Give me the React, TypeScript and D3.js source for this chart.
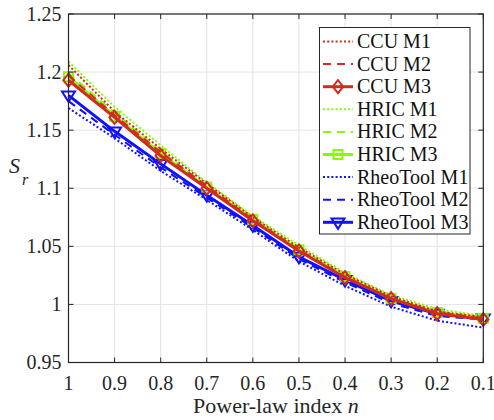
import React from "react";
import * as d3 from "d3";

const nValues = [1, 0.9, 0.8, 0.7, 0.6, 0.5, 0.4, 0.3, 0.2, 0.1];
const xTickLabels = ["1", "0.9", "0.8", "0.7", "0.6", "0.5", "0.4", "0.3", "0.2", "0.1"];
const yTicks = [0.95, 1, 1.05, 1.1, 1.15, 1.2, 1.25];
const yTickLabels = ["0.95", "1", "1.05", "1.1", "1.15", "1.2", "1.25"];

const ccuM1 = [1.206, 1.166, 1.134, 1.104, 1.075, 1.049, 1.026, 1.007, 0.994, 0.989];
const ccuM2 = [1.197, 1.163, 1.131, 1.102, 1.073, 1.047, 1.024, 1.005, 0.993, 0.988];
const ccuM3 = [1.193, 1.161, 1.128, 1.100, 1.072, 1.046, 1.023, 1.005, 0.992, 0.987];
const hricM1 = [1.209, 1.170, 1.137, 1.105, 1.076, 1.051, 1.027, 1.008, 0.996, 0.990];
const hricM2 = [1.199, 1.165, 1.132, 1.102, 1.074, 1.048, 1.025, 1.006, 0.994, 0.989];
const hricM3 = [1.196, 1.162, 1.130, 1.101, 1.073, 1.047, 1.024, 1.005, 0.993, 0.988];
const rheoM1 = [1.169, 1.143, 1.115, 1.090, 1.064, 1.037, 1.016, 0.998, 0.986, 0.980];
const rheoM2 = [1.175, 1.146, 1.118, 1.092, 1.066, 1.039, 1.019, 1.001, 0.990, 0.987];
const rheoM3 = [1.180, 1.149, 1.121, 1.094, 1.068, 1.041, 1.021, 1.003, 0.992, 0.988];

const RED = "#d42a1e";
const GREEN = "#80ff00";
const BLUE = "#1010ff";

type Series = {
  name: string;
  values: number[];
  color: string;
  style: "dot" | "dash" | "solid";
  marker?: "diamond" | "square" | "triangle";
};

const legendSeries: Series[] = [
  { name: "CCU M1", values: ccuM1, color: RED, style: "dot" },
  { name: "CCU M2", values: ccuM2, color: RED, style: "dash" },
  { name: "CCU M3", values: ccuM3, color: RED, style: "solid", marker: "diamond" },
  { name: "HRIC M1", values: hricM1, color: GREEN, style: "dot" },
  { name: "HRIC M2", values: hricM2, color: GREEN, style: "dash" },
  { name: "HRIC M3", values: hricM3, color: GREEN, style: "solid", marker: "square" },
  { name: "RheoTool M1", values: rheoM1, color: BLUE, style: "dot" },
  { name: "RheoTool M2", values: rheoM2, color: BLUE, style: "dash" },
  { name: "RheoTool M3", values: rheoM3, color: BLUE, style: "solid", marker: "triangle" },
];

// draw order: RheoTool first, then HRIC, then CCU on top
const drawOrder = [6, 7, 8, 3, 4, 5, 0, 1, 2];

const W = 494;
const H = 420;
const left = 68.5;
const right = 483.3;
const top = 14;
const bottom = 362.5;

function styleProps(s: Series) {
  if (s.style === "dot") return { strokeWidth: 2, strokeDasharray: "2,2.2" };
  if (s.style === "dash") return { strokeWidth: 2, strokeDasharray: "8,6" };
  return { strokeWidth: 3, strokeDasharray: undefined };
}

function Marker({ kind, x, y, color }: { kind: string; x: number; y: number; color: string }) {
  if (kind === "diamond") {
    const r = 6.5;
    return (
      <path
        d={`M${x},${y - r}L${x + r * 0.8},${y}L${x},${y + r}L${x - r * 0.8},${y}Z`}
        fill="none"
        stroke={color}
        strokeWidth={2}
      />
    );
  }
  if (kind === "square") {
    const r = 4.5;
    return <rect x={x - r} y={y - r} width={2 * r} height={2 * r} fill="none" stroke={color} strokeWidth={2} />;
  }
  const r = 6.5;
  return (
    <path
      d={`M${x - r},${y - r * 0.6}L${x + r},${y - r * 0.6}L${x},${y + r}Z`}
      fill="none"
      stroke={color}
      strokeWidth={2}
    />
  );
}

export default function App() {
  const x = d3.scaleLinear().domain([1, 0.1]).range([left, right]);
  const y = d3.scaleLinear().domain([0.95, 1.25]).range([bottom, top]);
  const line = d3
    .line<number>()
    .x((_, i) => x(nValues[i]))
    .y((d) => y(d));

  const legX = 319.5;
  const legY = 27.5;
  const legW = 150.5;
  const legH = 206.5;
  const rowY0 = 41.5;
  const rowStep = 22.6;

  return (
    <svg width={W} height={H} style={{ position: "absolute", left: 0, top: 0, background: "#fff" }}>
      <style>{`.t { font-family: "Liberation Serif", "Times New Roman", Times, serif !important; }`}</style>
      <rect x={0} y={0} width={W} height={H} fill="#fff" />
      {/* grid */}
      {nValues.map((v, i) => (
        <line key={"gx" + i} x1={x(v)} x2={x(v)} y1={top} y2={bottom} stroke="#e3e3e3" strokeWidth={1} />
      ))}
      {yTicks.map((v, i) => (
        <line key={"gy" + i} x1={left} x2={right} y1={y(v)} y2={y(v)} stroke="#e3e3e3" strokeWidth={1} />
      ))}
      {/* series */}
      {drawOrder.map((idx) => {
        const s = legendSeries[idx];
        const sp = styleProps(s);
        return (
          <g key={s.name}>
            <path
              d={line(s.values) || ""}
              fill="none"
              stroke={s.color}
              strokeWidth={sp.strokeWidth}
              strokeDasharray={sp.strokeDasharray}
              strokeLinejoin="round"
            />
            {s.marker &&
              s.values.map((v, i) => (
                <Marker key={i} kind={s.marker!} x={x(nValues[i])} y={y(v)} color={s.color} />
              ))}
          </g>
        );
      })}
      {/* axes box */}
      <rect x={left} y={top} width={right - left} height={bottom - top} fill="none" stroke="#262626" strokeWidth={1.2} />
      {nValues.map((v, i) => (
        <g key={"tx" + i}>
          <line x1={x(v)} x2={x(v)} y1={bottom} y2={bottom - 5} stroke="#262626" />
          <line x1={x(v)} x2={x(v)} y1={top} y2={top + 5} stroke="#262626" />
          <text className="t" x={x(v)} y={bottom + 27} textAnchor="middle" fontSize={20} fill="#262626">
            {xTickLabels[i]}
          </text>
        </g>
      ))}
      {yTicks.map((v, i) => (
        <g key={"ty" + i}>
          <line x1={left} x2={left + 5} y1={y(v)} y2={y(v)} stroke="#262626" />
          <line x1={right} x2={right - 5} y1={y(v)} y2={y(v)} stroke="#262626" />
          <text className="t" x={left - 7} y={y(v) + 6.5} textAnchor="end" fontSize={20} fill="#262626">
            {yTickLabels[i]}
          </text>
        </g>
      ))}
      {/* axis labels */}
      <text className="t" x={(left + right) / 2} y={413} textAnchor="middle" fontSize={22} fill="#262626">
        Power-law index <tspan fontStyle="italic">n</tspan>
      </text>
      <text className="t" x={9} y={173} fontSize={22} fontStyle="italic" fill="#262626">
        S
      </text>
      <text className="t" x={22} y={185} fontSize={16} fontStyle="italic" fill="#262626">
        r
      </text>
      {/* legend */}
      <rect x={legX} y={legY} width={legW} height={legH} fill="#fff" stroke="#262626" strokeWidth={1} />
      {legendSeries.map((s, i) => {
        const ry = rowY0 + i * rowStep;
        const sp = styleProps(s);
        return (
          <g key={"leg" + i}>
            <line
              x1={323}
              x2={353}
              y1={ry}
              y2={ry}
              stroke={s.color}
              strokeWidth={sp.strokeWidth}
              strokeDasharray={sp.strokeDasharray}
            />
            {s.marker && <Marker kind={s.marker} x={338} y={ry} color={s.color} />}
            <text className="t" x={357} y={ry + 6.5} fontSize={20} fill="#111">
              {s.name}
            </text>
          </g>
        );
      })}
    </svg>
  );
}
